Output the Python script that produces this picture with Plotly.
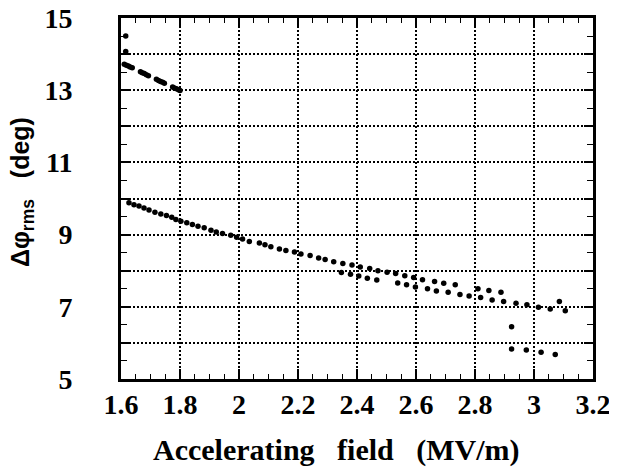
import plotly.graph_objects as go

# Upper-left cluster (two isolated points + dashed segment of dense dots)
top_x = [1.616, 1.616]
top_y = [14.50, 14.07]
seg_x = [1.611, 1.618, 1.625, 1.631, 1.638,
         1.666, 1.672, 1.679, 1.686, 1.693,
         1.720, 1.727, 1.734, 1.741, 1.747,
         1.775, 1.781, 1.788, 1.795, 1.800]
seg_y = [13.72, 13.69, 13.67, 13.64, 13.62,
         13.51, 13.48, 13.46, 13.43, 13.40,
         13.30, 13.27, 13.24, 13.22, 13.19,
         13.09, 13.06, 13.04, 13.01, 12.99]

# Main upper branch
main_x = [1.627, 1.644, 1.661, 1.678, 1.695, 1.715, 1.735, 1.754, 1.772, 1.786,
          1.803, 1.823, 1.842, 1.861, 1.882, 1.905, 1.923, 1.944, 1.972, 1.992,
          2.012, 2.035, 2.069, 2.088, 2.108, 2.137, 2.159, 2.188, 2.210, 2.241,
          2.270, 2.292, 2.321, 2.352, 2.383, 2.411, 2.443, 2.471, 2.502, 2.531,
          2.562, 2.592, 2.622, 2.663, 2.694, 2.733, 2.810, 2.847, 2.888]
main_y = [9.88, 9.83, 9.79, 9.74, 9.68, 9.62, 9.57, 9.53, 9.48, 9.42,
          9.37, 9.33, 9.28, 9.23, 9.19, 9.12, 9.07, 9.03, 8.98, 8.93,
          8.88, 8.81, 8.77, 8.72, 8.66, 8.60, 8.56, 8.52, 8.46, 8.42,
          8.35, 8.31, 8.25, 8.20, 8.16, 8.10, 8.06, 8.00, 7.96, 7.92,
          7.86, 7.81, 7.75, 7.70, 7.65, 7.61, 7.50, 7.45, 7.40]

# Lower branch
low_x = [2.347, 2.378, 2.406, 2.435, 2.467, 2.538, 2.568, 2.598, 2.639, 2.669,
         2.709, 2.749, 2.780, 2.819, 2.858, 2.897, 2.939, 2.976, 3.015, 3.055,
         3.086, 3.106]
low_y = [7.95, 7.90, 7.85, 7.79, 7.74, 7.66, 7.61, 7.55, 7.50, 7.44,
         7.40, 7.34, 7.30, 7.26, 7.19, 7.15, 7.10, 7.06, 6.99, 6.94,
         7.15, 6.89]

# Scattered low points at high field
drop_x = [2.924, 2.924, 2.974, 3.024, 3.072]
drop_y = [6.45, 5.83, 5.80, 5.74, 5.68]

x_ticks = [1.6, 1.8, 2.0, 2.2, 2.4, 2.6, 2.8, 3.0, 3.2]
x_labels = ["1.6", "1.8", "2", "2.2", "2.4", "2.6", "2.8", "3", "3.2"]
y_ticks = [5, 6, 7, 8, 9, 10, 11, 12, 13, 14, 15]
y_labels = ["5", " ", "7", " ", "9", " ", "11", " ", "13", " ", "15"]

marker = dict(color="black", size=5.5)
fig = go.Figure()
for xs, ys in [(top_x, top_y), (seg_x, seg_y), (main_x, main_y),
               (low_x, low_y), (drop_x, drop_y)]:
    fig.add_trace(go.Scatter(x=xs, y=ys, mode="markers", marker=marker,
                             showlegend=False, cliponaxis=False))

tickfont = dict(family="Liberation Serif", size=28, color="black", weight="bold")
common = dict(showline=True, linecolor="black", linewidth=3, mirror="ticks",
              ticks="inside", tickcolor="black", tickwidth=1.5,
              showgrid=True, gridcolor="black", gridwidth=1.5,
              griddash="2px,2px", zeroline=False, tickfont=tickfont,
              automargin=False, ticklabeloverflow="allow")

fig.update_xaxes(range=[1.6, 3.2], tickvals=x_ticks, ticktext=x_labels,
                 ticklen=10, ticklabelstandoff=-2,
                 minor=dict(dtick=0.05, ticks="inside", ticklen=5,
                            tickcolor="black", tickwidth=1.2, showgrid=False),
                 **common)
fig.update_yaxes(range=[5, 15], tickvals=y_ticks, ticktext=y_labels,
                 ticklen=9, ticklabelstandoff=40,
                 minor=dict(dtick=0.5, ticks="inside", ticklen=6,
                            tickcolor="black", tickwidth=1.2, showgrid=False),
                 **common)

fig.add_annotation(text="<b>Accelerating&nbsp;&nbsp;&nbsp;field&nbsp;&nbsp;&nbsp;(MV/m)</b>",
                   xref="x domain", yref="y domain", x=(336 - 121) / 472, y=-(450 - 379) / 361,
                   xanchor="center", yanchor="middle", showarrow=False,
                   font=dict(family="Liberation Serif", size=30, color="black"))
fig.add_annotation(text="<b>Δφ<sub>rms</sub>&nbsp;&nbsp;&nbsp;(deg)</b>",
                   xref="x domain", yref="y domain", x=-(121 - 22) / 472, y=(379 - 192) / 361,
                   xanchor="center", yanchor="middle", showarrow=False,
                   textangle=-90,
                   font=dict(family="Liberation Sans", size=25, color="black"))

# The page body has an 8px margin, so the figure is sized to fill the
# remaining window exactly.
fig.update_layout(width=609, height=463,
                  margin=dict(l=113, r=24, t=10, b=92),
                  plot_bgcolor="white", paper_bgcolor="white",
                  font=dict(family="Liberation Serif", color="black"))
fig.write_html("out.html")
